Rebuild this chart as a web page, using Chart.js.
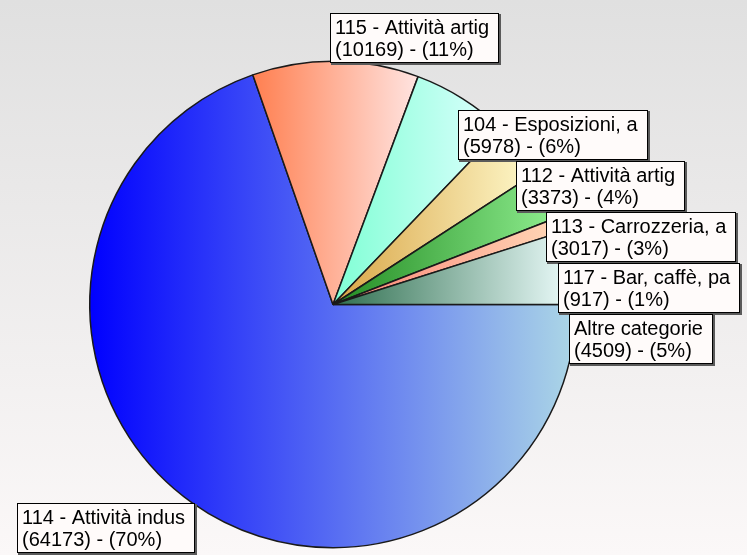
<!DOCTYPE html>
<html>
<head>
<meta charset="utf-8">
<title>Categorie</title>
<script src="https://cdn.jsdelivr.net/npm/chart.js@4.4.0/dist/chart.umd.min.js"></script>
<style>
    html, body { margin: 0; padding: 0; overflow: hidden; }
    #pieChart { display: block; }
</style>
</head>
<body>
<canvas id="pieChart" width="747" height="555"></canvas>
<script>
// slices go clockwise from 3 o'clock
const categories = [
    "114 - Attività indus",
    "115 - Attività artig",
    "104 - Esposizioni, a",
    "112 - Attività artig",
    "113 - Carrozzeria, a",
    "117 - Bar, caffè, pa",
    "Altre categorie"
];
const counts = [64173, 10169, 5978, 3373, 3017, 917, 4509];

const darkColors = ["#0000ff", "#ff7f50", "#7fffd4", "#d9a545", "#228b22", "#fa8072", "#2f6f4f"];
const lightColors = ["#add8e6", "#ffe4e1", "#e0ffff", "#fffacd", "#90ee90", "#ffdab9", "#f0ffff"];

const total = counts.reduce((a, b) => a + b, 0);
const percents = counts.map(v => Math.round(v / total * 100));

// horizontal gradient across the x-extent of each slice
function sliceGradient(context) {
    const chart = context.chart;
    const area = chart.chartArea;
    const i = context.dataIndex;
    if (!area) return darkColors[i];
    const cx = (area.left + area.right) / 2;
    const r = Math.min(area.width, area.height) / 2;
    let start = 0;
    for (let k = 0; k < i; k++) start += counts[k] / total * Math.PI * 2;
    const end = start + counts[i] / total * Math.PI * 2;
    const xs = [cx, cx + r * Math.cos(start), cx + r * Math.cos(end)];
    if (start <= Math.PI && end >= Math.PI) xs.push(cx - r);
    if (start <= 0 || end >= Math.PI * 2 - 1e-6) xs.push(cx + r);
    const g = chart.ctx.createLinearGradient(Math.min(...xs), 0, Math.max(...xs), 0);
    g.addColorStop(0, darkColors[i]);
    g.addColorStop(1, lightColors[i]);
    return g;
}

const backdrop = {
    id: "backdrop",
    beforeDraw(chart) {
        const ctx = chart.ctx;
        const g = ctx.createLinearGradient(0, 0, 0, chart.height);
        g.addColorStop(0, "#e0e0e0");
        g.addColorStop(1, "#fbf8f8");
        ctx.save();
        ctx.fillStyle = g;
        ctx.fillRect(0, 0, chart.width, chart.height);
        ctx.restore();
    }
};

const boxLabels = {
    id: "boxLabels",
    afterDraw(chart) {
        const ctx = chart.ctx;
        const meta = chart.getDatasetMeta(0);
        const boxH = 50;
        let lastTop = -Infinity;
        ctx.save();
        ctx.font = '20px "Liberation Sans", Arial, sans-serif';
        ctx.textBaseline = "alphabetic";
        meta.data.forEach((arc, i) => {
            const p = arc.getProps(["x", "y", "startAngle", "endAngle", "outerRadius"], true);
            const mid = (p.startAngle + p.endAngle) / 2;
            const ax = p.x + p.outerRadius * Math.cos(mid);
            const ay = p.y + p.outerRadius * Math.sin(mid);
            const lines = [categories[i], `(${counts[i]}) - (${percents[i]}%)`];
            const w = Math.max(...lines.map(t => ctx.measureText(t).width)) + 15;
            let left, top;
            if (Math.abs(Math.cos(mid)) < 0.15 && Math.sin(mid) < 0) {
                left = ax - 6;
                top = ay - boxH + 2;
            } else if (Math.cos(mid) > 0) {
                left = ax - 4;
                top = Math.max(ay + 11, lastTop + boxH + 1);
                lastTop = top;
            } else {
                left = ax + 3 - w;
                top = ay;
            }
            left = Math.round(left);
            top = Math.round(top);
            const bw = Math.round(w);

            ctx.fillStyle = "#5a5a5a";
            ctx.fillRect(left + 1, top + 1, bw + 1, boxH + 1);
            ctx.fillStyle = "#fffbfa";
            ctx.fillRect(left, top, bw, boxH);
            ctx.strokeStyle = "#000";
            ctx.lineWidth = 1;
            ctx.strokeRect(left + 0.5, top + 0.5, bw - 1, boxH - 1);

            ctx.fillStyle = "#000";
            ctx.fillText(lines[0], left + 5, top + 21);
            ctx.fillText(lines[1], left + 5, top + 43);
        });
        ctx.restore();
    }
};

new Chart(document.getElementById("pieChart"), {
    type: "pie",
    data: {
        labels: categories,
        datasets: [{
            data: counts,
            backgroundColor: sliceGradient,
            borderColor: "#1a1a1a",
            borderWidth: 1.5
        }]
    },
    options: {
        responsive: false,
        animation: false,
        devicePixelRatio: 1,
        rotation: 90,
        layout: {
            padding: { top: 60, bottom: 6, left: 89, right: 170 }
        },
        plugins: {
            legend: { display: false },
            tooltip: { enabled: false }
        }
    },
    plugins: [backdrop, boxLabels]
});
</script>
</body>
</html>
